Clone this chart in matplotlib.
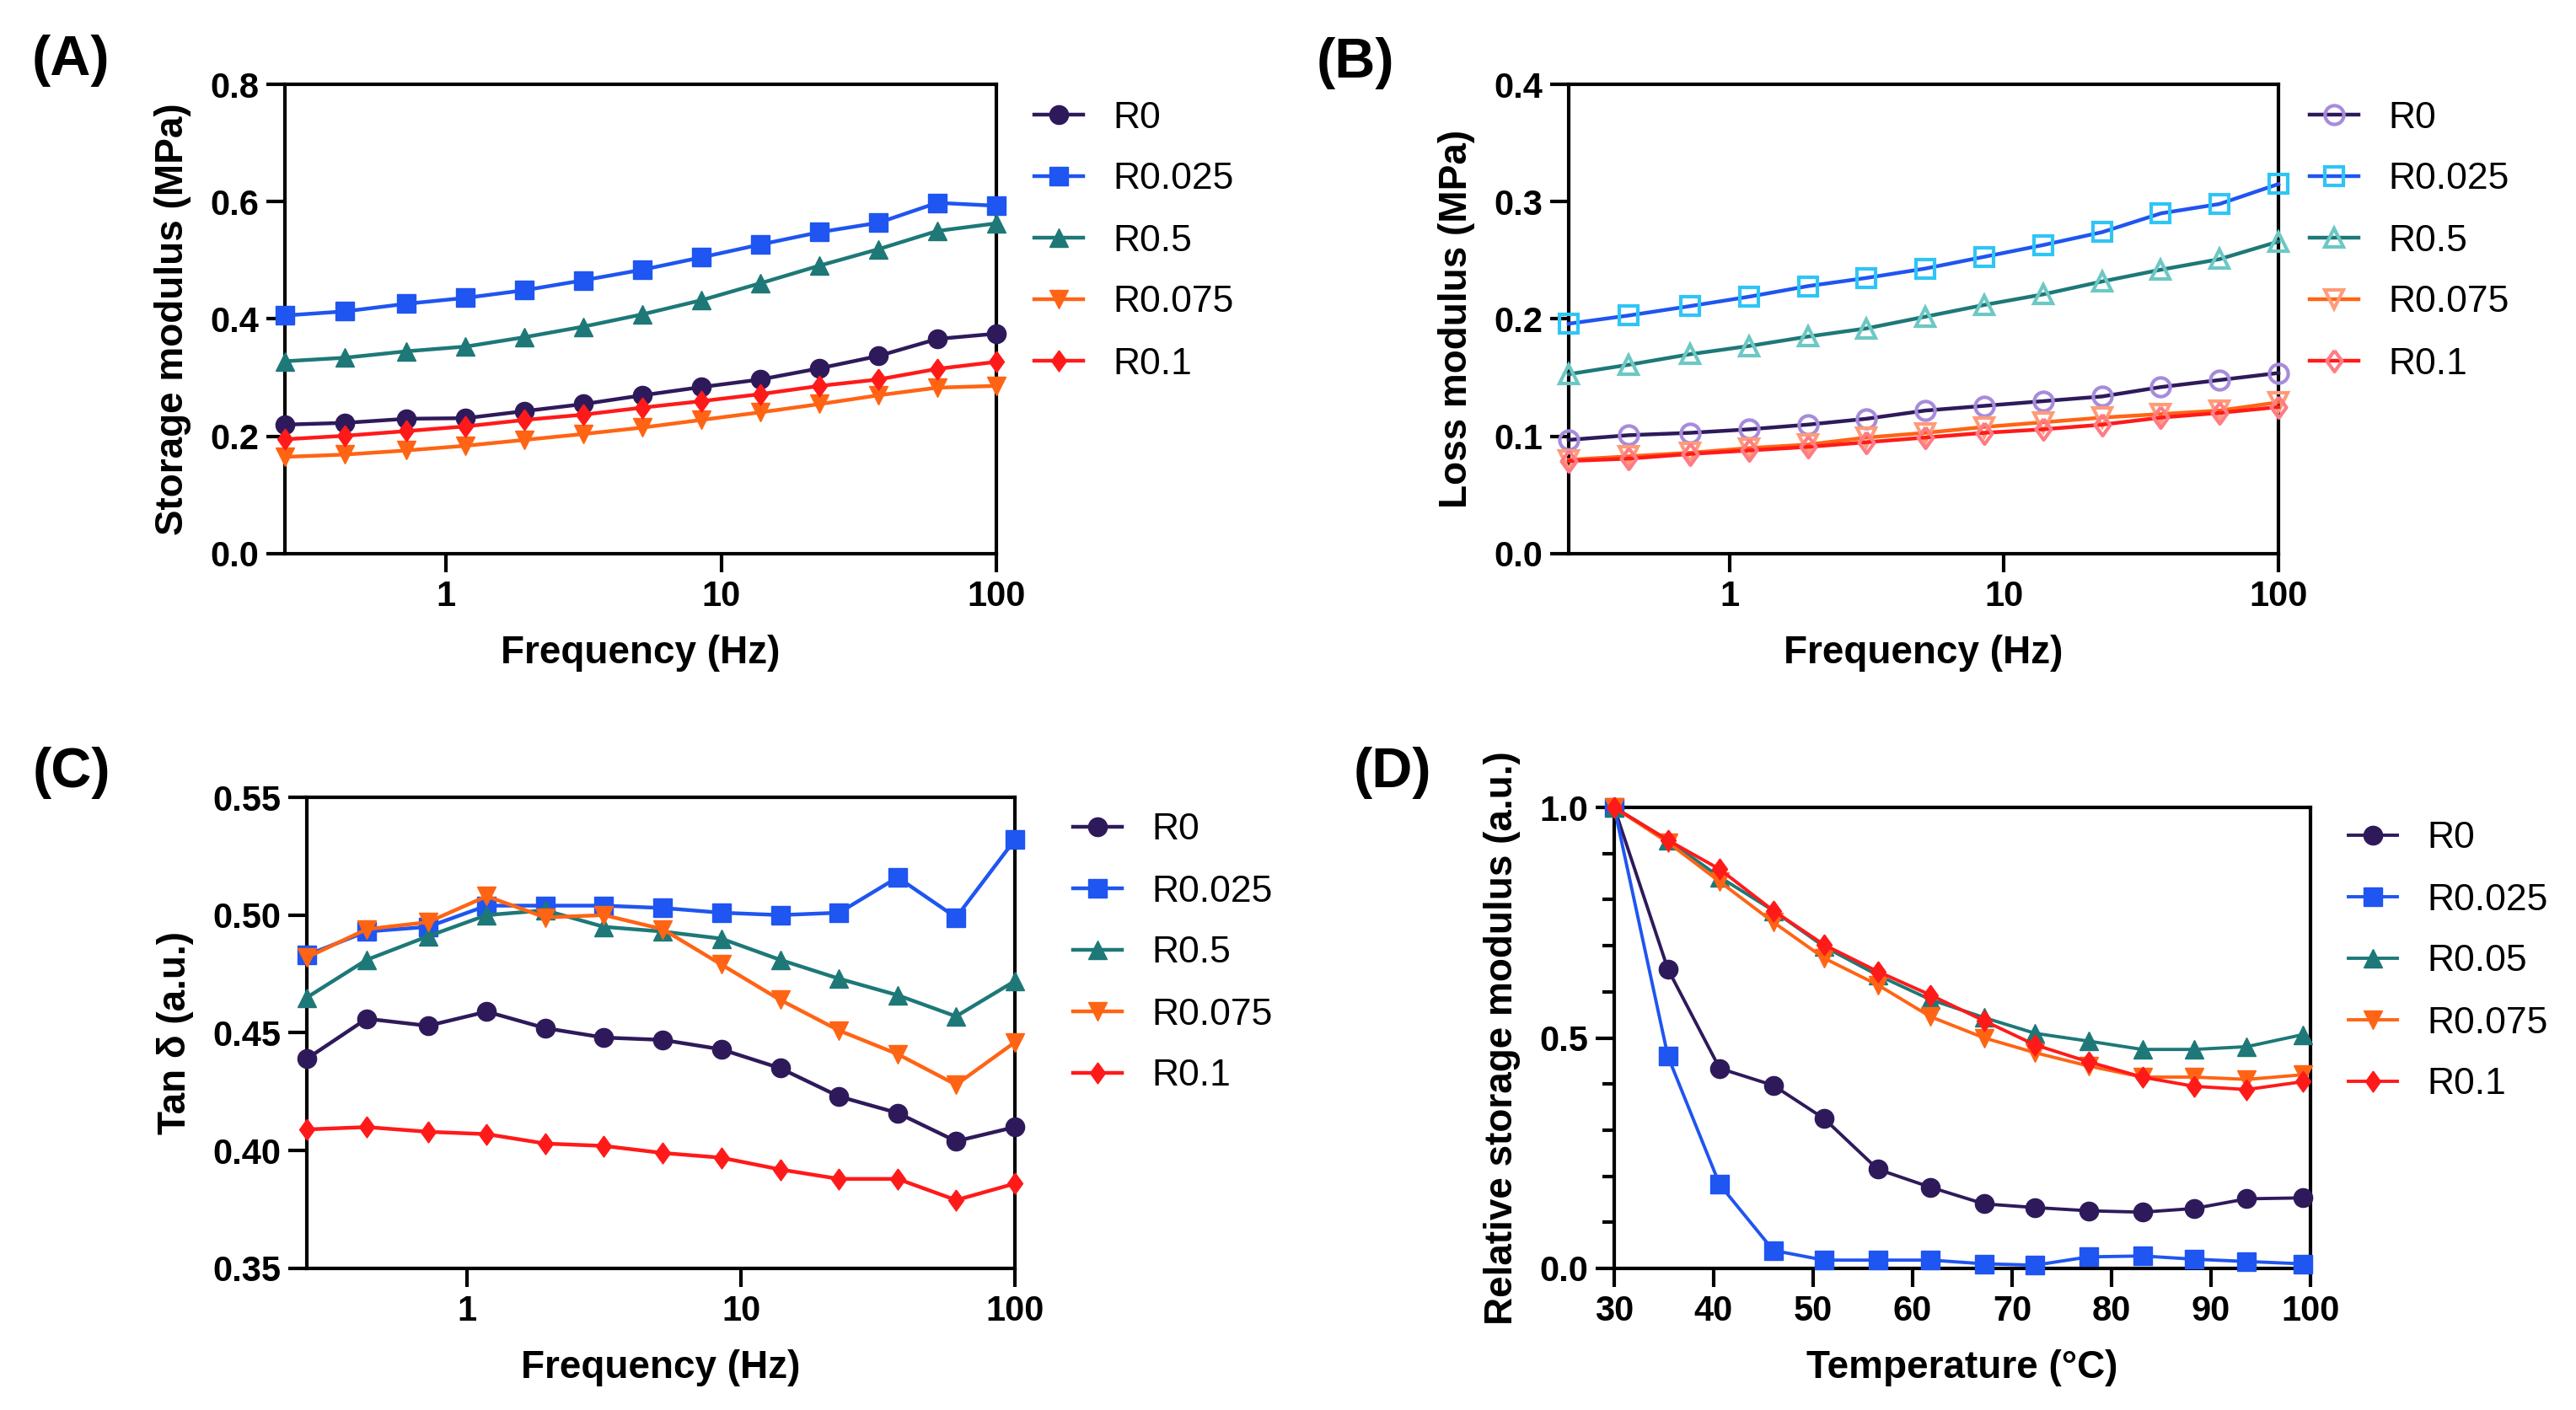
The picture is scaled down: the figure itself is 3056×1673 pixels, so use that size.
import matplotlib
matplotlib.use("Agg")
import matplotlib.pyplot as plt
from matplotlib.ticker import FixedLocator, NullLocator, MultipleLocator, FormatStrFormatter

plt.rcParams['font.family'] = ['Liberation Sans', 'DejaVu Sans']

# ── data ─────────────────────────────────────────────────────
labels = ['R0', 'R0.025', 'R0.5', 'R0.075', 'R0.1']
labels_d = ['R0', 'R0.025', 'R0.05', 'R0.075', 'R0.1']

freq = [0.26, 0.43, 0.72, 1.18, 1.93, 3.16, 5.18, 8.48, 13.9, 22.8, 37.3, 61.0, 100.0]
temp = [30, 35.4, 40.6, 46.0, 51.1, 56.5, 61.8, 67.2, 72.3, 77.7, 83.1, 88.3, 93.6, 99.2]

# (A) storage modulus, MPa
a_r0     = [0.220, 0.223, 0.230, 0.231, 0.243, 0.255, 0.270, 0.284, 0.297, 0.316, 0.337, 0.366, 0.375]
a_r0025  = [0.406, 0.413, 0.426, 0.436, 0.449, 0.466, 0.484, 0.505, 0.527, 0.548, 0.564, 0.598, 0.593]
a_r05    = [0.328, 0.334, 0.345, 0.353, 0.369, 0.387, 0.408, 0.432, 0.461, 0.491, 0.519, 0.550, 0.563]
a_r0075  = [0.165, 0.169, 0.176, 0.184, 0.194, 0.204, 0.215, 0.228, 0.241, 0.255, 0.270, 0.283, 0.286]
a_r01    = [0.195, 0.201, 0.209, 0.217, 0.228, 0.237, 0.249, 0.260, 0.272, 0.286, 0.297, 0.315, 0.327]

# (B) loss modulus, MPa
b_r0     = [0.097, 0.101, 0.103, 0.106, 0.110, 0.115, 0.122, 0.126, 0.130, 0.134, 0.142, 0.148, 0.154]
b_r0025  = [0.196, 0.203, 0.211, 0.219, 0.228, 0.235, 0.243, 0.253, 0.263, 0.274, 0.290, 0.298, 0.315]
b_r05    = [0.153, 0.161, 0.170, 0.177, 0.185, 0.192, 0.202, 0.212, 0.221, 0.232, 0.242, 0.251, 0.266]
b_r0075  = [0.080, 0.083, 0.086, 0.090, 0.093, 0.099, 0.103, 0.108, 0.112, 0.116, 0.119, 0.122, 0.129]
b_r01    = [0.079, 0.081, 0.085, 0.088, 0.091, 0.095, 0.099, 0.103, 0.106, 0.110, 0.116, 0.120, 0.125]

# (C) tan delta
c_r0     = [0.439, 0.456, 0.453, 0.459, 0.452, 0.448, 0.447, 0.443, 0.435, 0.423, 0.416, 0.404, 0.410]
c_r0025  = [0.483, 0.493, 0.495, 0.504, 0.504, 0.504, 0.503, 0.501, 0.500, 0.501, 0.516, 0.499, 0.532]
c_r05    = [0.465, 0.481, 0.491, 0.500, 0.502, 0.495, 0.493, 0.490, 0.481, 0.473, 0.466, 0.457, 0.472]
c_r0075  = [0.482, 0.494, 0.497, 0.508, 0.499, 0.500, 0.494, 0.479, 0.464, 0.451, 0.441, 0.428, 0.446]
c_r01    = [0.409, 0.410, 0.408, 0.407, 0.403, 0.402, 0.399, 0.397, 0.392, 0.388, 0.388, 0.379, 0.386]

# (D) relative storage modulus
d_r0     = [1.0, 0.649, 0.434, 0.397, 0.325, 0.215, 0.176, 0.140, 0.132, 0.125, 0.122, 0.130, 0.151, 0.153]
d_r0025  = [1.0, 0.460, 0.182, 0.039, 0.018, 0.018, 0.018, 0.010, 0.007, 0.025, 0.027, 0.020, 0.015, 0.010]
d_r005   = [1.0, 0.929, 0.849, 0.776, 0.698, 0.636, 0.583, 0.544, 0.510, 0.493, 0.475, 0.475, 0.481, 0.507]
d_r0075  = [1.0, 0.924, 0.839, 0.751, 0.673, 0.615, 0.546, 0.500, 0.468, 0.439, 0.415, 0.415, 0.410, 0.420]
d_r01    = [1.0, 0.929, 0.866, 0.776, 0.702, 0.644, 0.593, 0.537, 0.485, 0.448, 0.415, 0.395, 0.388, 0.405]

# ── style ────────────────────────────────────────────────────
line_cols = ['#2E1A5B', '#1F55F0', '#1E7878', '#FF6414', '#FF1A1A']
open_cols = ['#A78BDB', '#2EC5F5', '#6CC8C4', '#FF9B78', '#FF7B85']
diamond = [(0, 1), (0.72, 0), (0, -1), (-0.72, 0), (0, 1)]
markers = ['o', 's', '^', 'v', diamond]
msizes = [16, 16, 16, 16, 18]

TICK_FS = 30
LAB_FS = 33
LEG_FS = 32

fig = plt.figure(figsize=(30.56, 16.73), dpi=100)
W, H = 3056, 1673


def make_ax(l, r, t, b):
    return fig.add_axes([l / W, 1 - b / H, (r - l) / W, (b - t) / H])


def style_ax(ax):
    for s in ax.spines.values():
        s.set_linewidth(3)
    ax.tick_params(which='major', length=16, width=3, direction='out',
                   labelsize=TICK_FS, pad=6)
    ax.tick_params(which='minor', length=10, width=3, direction='out')
    for t in ax.get_xticklabels() + ax.get_yticklabels():
        t.set_fontweight('bold')


def add_legend(ax, x, y):
    leg = ax.legend(loc='center left', bbox_to_anchor=(x / W, 1 - y / H),
                    bbox_transform=fig.transFigure, frameon=False,
                    fontsize=LEG_FS, handlelength=1.3, handletextpad=0.8,
                    labelspacing=0.72, borderpad=0, borderaxespad=0, numpoints=1)
    return leg


def freq_axis(ax):
    ax.set_xscale('log')
    ax.set_xlim(freq[0], 100)
    ax.xaxis.set_major_locator(FixedLocator([1, 10, 100]))
    ax.xaxis.set_minor_locator(NullLocator())
    ax.set_xticklabels(['1', '10', '100'])
    ax.set_xlabel('Frequency (Hz)', fontsize=LAB_FS, fontweight='bold', labelpad=18)


# ── (A) ──────────────────────────────────────────────────────
ax = make_ax(338, 1182, 100, 657)
for i, ys in enumerate([a_r0, a_r0025, a_r05, a_r0075, a_r01]):
    ax.plot(freq, ys, color=line_cols[i], marker=markers[i], ms=msizes[i],
            lw=3.2, label=labels[i], clip_on=False, zorder=3)
freq_axis(ax)
ax.set_ylim(0, 0.8)
ax.yaxis.set_major_locator(MultipleLocator(0.2))
ax.yaxis.set_major_formatter(FormatStrFormatter('%.1f'))
ax.set_ylabel('Storage modulus (MPa)', fontsize=LAB_FS, fontweight='bold', labelpad=16)
style_ax(ax)
add_legend(ax, 1227, 286)
fig.text(38 / W, 1 - 72 / H, '(A)', fontsize=48, fontweight='bold', va='center')

# ── (B) ──────────────────────────────────────────────────────
ax = make_ax(1861, 2703, 100, 657)
for i, ys in enumerate([b_r0, b_r0025, b_r05, b_r0075, b_r01]):
    ax.plot(freq, ys, color=line_cols[i], marker=markers[i], ms=msizes[i],
            mfc='none', mec=open_cols[i], mew=3, lw=3.2, label=labels[i],
            clip_on=False, zorder=3)
freq_axis(ax)
ax.set_ylim(0, 0.4)
ax.yaxis.set_major_locator(MultipleLocator(0.1))
ax.yaxis.set_major_formatter(FormatStrFormatter('%.1f'))
ax.set_ylabel('Loss modulus (MPa)', fontsize=LAB_FS, fontweight='bold', labelpad=16)
style_ax(ax)
add_legend(ax, 2740, 286)
fig.text(1562 / W, 1 - 75 / H, '(B)', fontsize=48, fontweight='bold', va='center')

# ── (C) ──────────────────────────────────────────────────────
ax = make_ax(364, 1204, 946, 1505)
for i, ys in enumerate([c_r0, c_r0025, c_r05, c_r0075, c_r01]):
    ax.plot(freq, ys, color=line_cols[i], marker=markers[i], ms=msizes[i],
            lw=3.2, label=labels[i], clip_on=False, zorder=3)
freq_axis(ax)
ax.set_ylim(0.35, 0.55)
ax.yaxis.set_major_locator(MultipleLocator(0.05))
ax.yaxis.set_major_formatter(FormatStrFormatter('%.2f'))
ax.set_ylabel('Tan δ (a.u.)', fontsize=LAB_FS, fontweight='bold', labelpad=16)
style_ax(ax)
add_legend(ax, 1273, 1131)
fig.text(39 / W, 1 - 917 / H, '(C)', fontsize=48, fontweight='bold', va='center')

# ── (D) ──────────────────────────────────────────────────────
ax = make_ax(1915, 2741, 958, 1505)
for i, ys in enumerate([d_r0, d_r0025, d_r005, d_r0075, d_r01]):
    ax.plot(temp, ys, color=line_cols[i], marker=markers[i], ms=msizes[i],
            lw=2.8, label=labels_d[i], clip_on=False, zorder=3)
ax.set_xlim(30, 100)
ax.set_ylim(0, 1.0)
ax.xaxis.set_major_locator(MultipleLocator(10))
ax.yaxis.set_major_locator(MultipleLocator(0.5))
ax.yaxis.set_minor_locator(MultipleLocator(0.1))
ax.yaxis.set_major_formatter(FormatStrFormatter('%.1f'))
ax.set_xlabel('Temperature (°C)', fontsize=LAB_FS, fontweight='bold', labelpad=18)
ax.set_ylabel('Relative storage modulus (a.u.)', fontsize=LAB_FS, fontweight='bold', labelpad=16)
style_ax(ax)
add_legend(ax, 2786, 1141)
fig.text(1606 / W, 1 - 917 / H, '(D)', fontsize=48, fontweight='bold', va='center')

fig.savefig('out.png', dpi=100)
